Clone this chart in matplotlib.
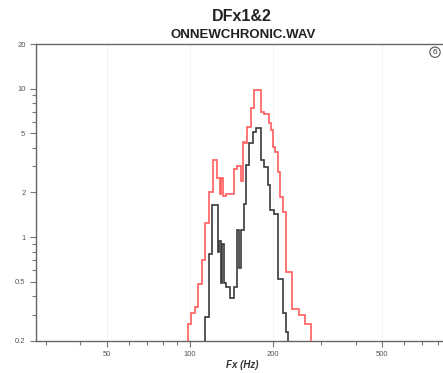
import matplotlib
matplotlib.use("Agg")
import matplotlib.pyplot as plt
from matplotlib.ticker import LogLocator, FixedLocator, NullFormatter

# bin edges (Hz) and values
red_edges = [98.3, 101.3, 104.3, 107.5, 110.7, 113.5, 117.0, 121.5, 125.7, 128.4,
             130.0, 132.2, 135.6, 145.1, 148.9, 153.1, 156.2, 159.3, 162.0, 166.6,
             170.4, 181.3, 185.5, 194.6, 197.3, 200.2, 204.1, 208.8, 212.4, 217.9,
             224.0, 235.7, 249.5, 261.9, 274.6]
red_vals = [0.26, 0.31, 0.34, 0.48, 0.70, 1.25, 2.0, 3.3, 2.5, 1.95,
            2.5, 1.9, 1.95, 2.9, 3.0, 2.4, 4.4, 4.3, 5.5, 7.4,
            9.8, 7.0, 6.8, 5.9, 5.3, 4.05, 3.75, 2.75, 1.87, 1.48,
            0.58, 0.33, 0.30, 0.26]

black_edges = [113.8, 117.2, 120.0, 126.2, 127.8, 129.5, 131.1, 133.4, 135.6, 140.3,
               144.7, 148.9, 151.4, 154.0, 157.5, 159.7, 164.4, 169.0, 173.9, 181.3,
               186.6, 191.9, 195.6, 203.1, 208.8, 217.9, 224.0, 227.3]
black_vals = [0.29, 0.77, 1.65, 0.80, 0.94, 0.49, 0.90, 0.49, 0.46, 0.39,
              0.46, 1.12, 0.62, 1.12, 1.67, 3.06, 4.3, 5.1, 5.4, 3.3,
              2.97, 2.25, 1.52, 1.43, 0.52, 0.31, 0.23]

x_ticks = [50, 100, 200, 500]
x_labels = ["50", "100", "200", "500"]
y_ticks = [0.2, 0.5, 1, 2, 5, 10, 20]
y_labels = ["0.2", "0.5", "1", "2", "5", "10", "20"]

plt.rcParams["font.family"] = ["Liberation Sans", "DejaVu Sans"]

fig = plt.figure(figsize=(4.43, 3.73), dpi=100)
ax = fig.add_axes([0.081, 0.086, 0.93, 0.796])

ax.set_xscale("log")
ax.set_yscale("log")
ax.set_xlim(27.6, 866)
ax.set_ylim(0.2, 20)

ax.stairs(red_vals, red_edges, baseline=0.2, color="#ff5c5c", lw=1.2, zorder=3)
ax.stairs(black_vals, black_edges, baseline=0.2, color="#3a3a3a", lw=1.2, zorder=4)

ax.xaxis.set_major_locator(FixedLocator(x_ticks))
ax.set_xticklabels(x_labels)
ax.xaxis.set_minor_locator(LogLocator(base=10, subs=(2, 3, 4, 5, 6, 7, 8, 9)))
ax.xaxis.set_minor_formatter(NullFormatter())
ax.yaxis.set_major_locator(FixedLocator(y_ticks))
ax.set_yticklabels(y_labels)
ax.yaxis.set_minor_locator(LogLocator(base=10, subs=(3, 4, 6, 7, 8, 9)))
ax.yaxis.set_minor_formatter(NullFormatter())

ax.tick_params(which="both", direction="out", colors="#777777", labelsize=5.5,
               labelcolor="#555555", width=0.8)
ax.tick_params(which="major", length=4)
ax.tick_params(which="minor", length=3)

for s in ["left", "bottom", "top"]:
    ax.spines[s].set_color("#666666")
    ax.spines[s].set_linewidth(1.0)
ax.spines["right"].set_visible(False)

ax.grid(True, which="major", axis="x", color="#f0f0f0", lw=0.6)

ax.set_xlabel("Fx (Hz)", fontsize=7, fontweight="bold", fontstyle="italic",
              color="#333333", labelpad=1)

fig.text(0.545, 0.955, "DFx1&2", ha="center", va="center", fontsize=11.5,
         fontweight="bold", color="#222222")
fig.text(0.548, 0.905, "ONNEWCHRONIC.WAV", ha="center", va="center", fontsize=9.5,
         fontweight="bold", color="#222222")
fig.text(0.982, 0.86, "6", ha="center", va="center", fontsize=6, color="#333333",
         bbox=dict(boxstyle="circle,pad=0.2", fc="white", ec="#555555", lw=0.8))

fig.savefig("out.png", dpi=100)
